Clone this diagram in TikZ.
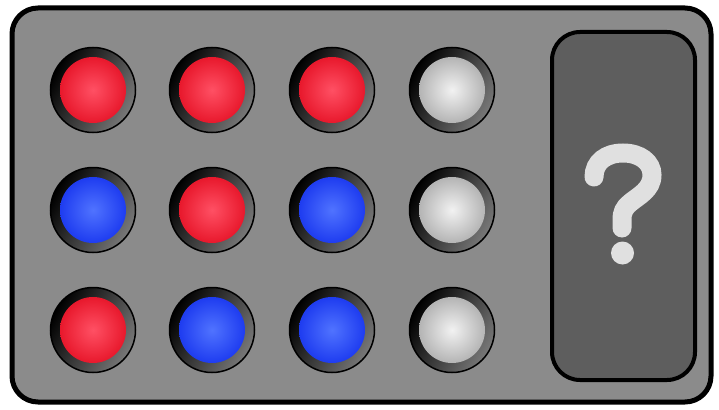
\documentclass[tikz,border=0pt]{standalone}
\definecolor{framegray}{RGB}{139,139,139}
\definecolor{panelgray}{RGB}{94,94,94}
\definecolor{qgray}{RGB}{224,224,224}
\definecolor{redbase}{RGB}{232,24,44}
\definecolor{redhi}{RGB}{255,80,100}
\definecolor{bluebase}{RGB}{30,60,240}
\definecolor{bluehi}{RGB}{80,115,255}
\definecolor{whitebase}{RGB}{180,180,180}
\definecolor{whitehi}{RGB}{242,242,242}
\definecolor{ringgray}{RGB}{120,120,120}
\tikzset{
  ringstyle/.style={circle, minimum size=85pt, inner sep=0pt, draw=black, line width=1.5pt,
    left color=black, right color=ringgray, shading angle=60},
  ballstyle/.style={circle, minimum size=66pt, inner sep=0pt, inner color=#1hi, outer color=#1base},
  framestyle/.style={draw=black, line width=5pt, fill=framegray, rounded corners=26pt},
  panelstyle/.style={draw=black, line width=4pt, fill=panelgray, rounded corners=28pt},
  qstroke/.style={draw=qgray, line width=19pt, line cap=round},
  qdot/.style={circle, fill=qgray, minimum size=23pt, inner sep=0pt}
}
\begin{document}
\begin{tikzpicture}[x=1pt,y=-1pt]
\useasboundingbox (0,0) rectangle (719,409);
\draw[framestyle] (12,8) rectangle (711,402);
\draw[panelstyle] (552,32) rectangle (695,380);
\coordinate (qstart) at (594,177);
\coordinate (qend) at (622,228);
\draw[qstroke] (qstart) .. controls (594,162) and (606,153) .. (623,153)
  .. controls (640,153) and (652,162) .. (652,175)
  .. controls (652,190) and (638,196) .. (630,203)
  .. controls (624,208) and (622,212) .. (622,220) -- (qend);
\node[qdot] (qd) at (622.5,253) {};
\foreach \r/\y/\ca/\cb/\cc/\cd in {1/90/red/red/red/white, 2/210/blue/red/blue/white, 3/330/red/blue/blue/white}{
  \foreach \c/\x/\col in {1/93/\ca, 2/212/\cb, 3/332/\cc, 4/452/\cd}{
    \node[ringstyle] (ring\r\c) at (\x,\y) {};
    \node[ballstyle=\col] (ball\r\c) at (ring\r\c.center) {};
  }
}
\end{tikzpicture}
\end{document}
